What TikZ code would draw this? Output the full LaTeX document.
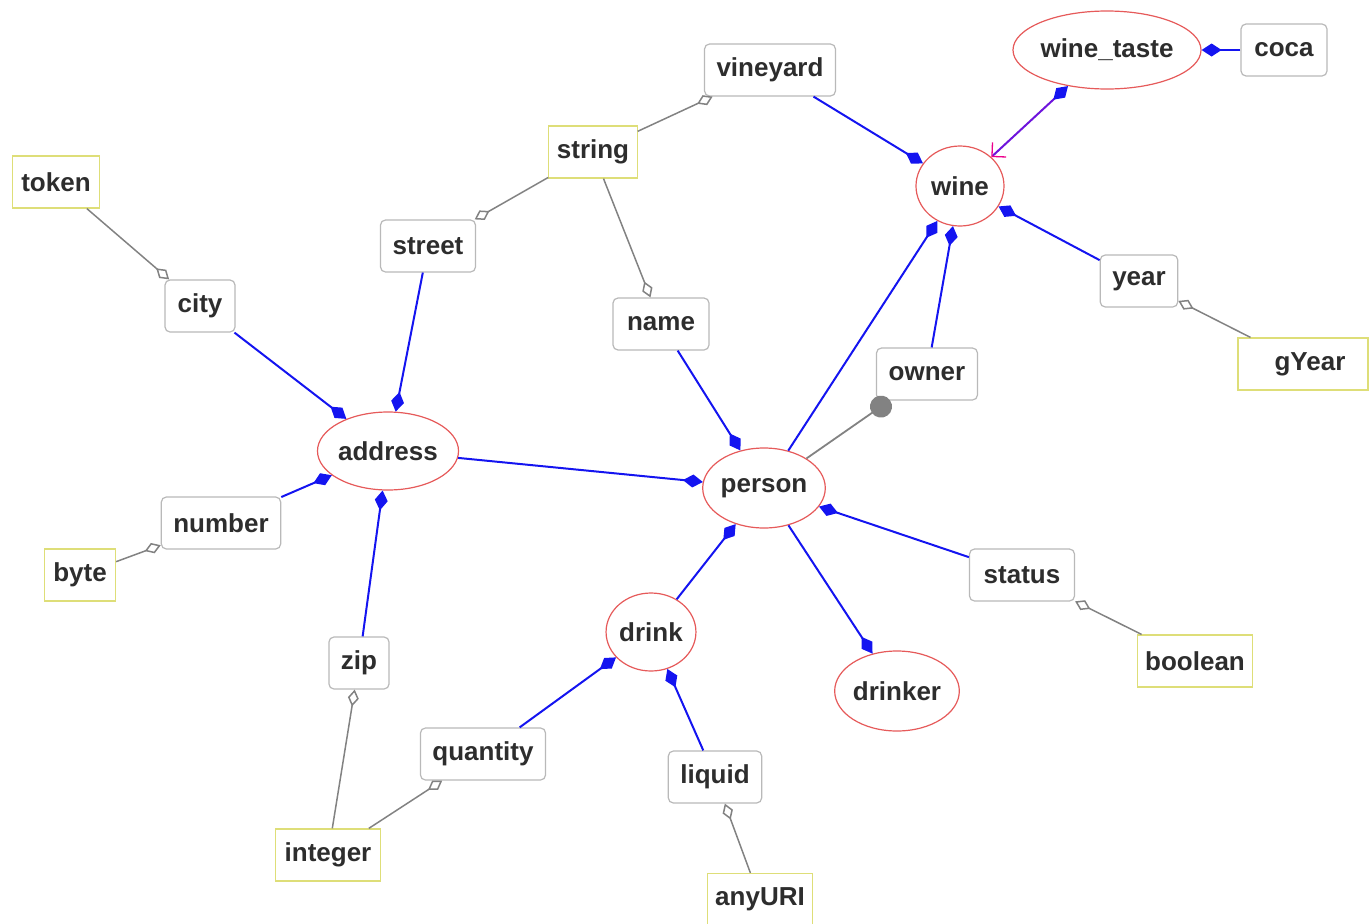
\documentclass[tikz,border=0pt]{standalone}
\usepackage{fontspec}
\setmainfont{Liberation Sans}
\usetikzlibrary{shapes.geometric,arrows.meta}
\definecolor{txt}{RGB}{45,45,45}
\definecolor{attrline}{RGB}{185,185,185}
\definecolor{typeline}{RGB}{222,222,120}
\definecolor{clsline}{RGB}{230,90,90}
\definecolor{compline}{RGB}{20,20,240}
\definecolor{aggline}{RGB}{130,130,130}
\definecolor{violetline}{RGB}{110,20,220}
\tikzset{
  lbl/.style={font=\fontsize{26}{29}\selectfont\bfseries, text=txt, inner sep=0pt},
  attr/.style={lbl, draw=attrline, line width=1.2pt, fill=white, rounded corners=5pt, minimum height=52pt, inner xsep=12pt},
  dtype/.style={lbl, draw=typeline, line width=1.2pt, fill=white, minimum height=52pt, inner xsep=8pt},
  cls/.style={lbl, ellipse, draw=clsline, line width=1.2pt, fill=white},
  comp/.style={draw=compline, line width=2pt, -{Diamond[length=20pt,width=13pt]}},
  aggr/.style={draw=aggline, line width=1.5pt, -{Diamond[open,length=17pt,width=11pt,fill=white]}},
}
\begin{document}
\begin{tikzpicture}[x=1pt,y=-1pt]
\useasboundingbox (0,0) rectangle (1369,924);
% classes
\node[cls, minimum width=174pt, minimum height=78pt] (winetaste) at (1107,50) {wine\_taste};
\node[cls, minimum width=88pt, minimum height=80pt] (wine) at (960,186) {wine};
\node[cls, minimum width=132pt, minimum height=78pt] (address) at (388,451) {address};
\node[cls, minimum width=114pt, minimum height=80pt] (person) at (764,488) {person};
\node[cls, minimum width=88pt, minimum height=78pt] (drink) at (651,632) {drink};
\node[cls, minimum width=120pt, minimum height=80pt] (drinker) at (897,691) {drinker};
% attributes
\node[attr, minimum width=86pt] (coca) at (1284,50) {coca};
\node[attr, minimum width=128pt] (vineyard) at (770,70) {vineyard};
\node[attr, minimum width=95pt] (street) at (428,246) {street};
\node[attr, minimum width=70pt] (city) at (200,306) {city};
\node[attr, minimum width=96pt] (name) at (661,324) {name};
\node[attr, minimum width=77pt] (year) at (1139,281) {year};
\node[attr, minimum width=101pt] (owner) at (927,374) {owner};
\node[attr, minimum width=118pt] (number) at (221,523) {number};
\node[attr, minimum width=105pt] (status) at (1022,575) {status};
\node[attr, minimum width=60pt] (zip) at (359,663) {zip};
\node[attr, minimum width=121pt] (quantity) at (483,754) {quantity};
\node[attr, minimum width=89pt] (liquid) at (715,777) {liquid};
% data types
\node[dtype, minimum width=85pt] (string) at (593,152) {string};
\node[dtype, minimum width=87pt] (token) at (56,182) {token};
\node[dtype, minimum width=130pt, text width=114pt, align=center] (gyear) at (1303,364) {\hspace*{14pt}gYear};
\node[dtype, minimum width=71pt] (byte) at (80,575) {byte};
\node[dtype, minimum width=111pt] (boolean) at (1195,661) {boolean};
\node[dtype, minimum width=105pt] (integer) at (328,855) {integer};
\node[dtype, minimum width=94pt, minimum height=51pt] (anyuri) at (760,899) {anyURI};
% composition edges
\draw[comp] (coca) -- (winetaste);
\draw[comp] (vineyard) -- (wine);
\draw[comp] (year) -- (wine);
\draw[comp] (person) -- (wine);
\draw[comp] (owner) -- (wine);
\draw[comp] (street) -- (address);
\draw[comp] (city) -- (address);
\draw[comp] (number) -- (address);
\draw[comp] (zip) -- (address);
\draw[comp] (name) -- (person);
\draw[comp] (address) -- (person);
\draw[comp] (drink) -- (person);
\draw[comp] (status) -- (person);
\draw[comp] (person) -- (drinker);
\draw[comp] (quantity) -- (drink);
\draw[comp] (liquid) -- (drink);
% wine_taste to wine
\draw[draw=violetline, line width=2pt, {Diamond[length=20pt,width=13pt,color=compline]}-{Straight Barb[length=10pt,width=20pt,color=magenta,line width=1.3pt]}] (winetaste) -- (wine);
% owner link
\coordinate (ownerdot) at ([xshift=-46pt,yshift=-6pt]owner.south);
\draw[draw=aggline, line width=1.8pt, -{Circle[length=22pt,width=22pt]}, shorten >=-11pt] (person) -- (ownerdot);
% aggregation edges
\draw[aggr] (string) -- (vineyard);
\draw[aggr] (string) -- (street);
\draw[aggr] (string) -- (name);
\draw[aggr] (token) -- (city);
\draw[aggr] (gyear) -- (year);
\draw[aggr] (byte) -- (number);
\draw[aggr] (boolean) -- (status);
\draw[aggr] (integer) -- (zip);
\draw[aggr] (integer) -- (quantity);
\draw[aggr] (anyuri) -- (liquid);
\end{tikzpicture}
\end{document}
